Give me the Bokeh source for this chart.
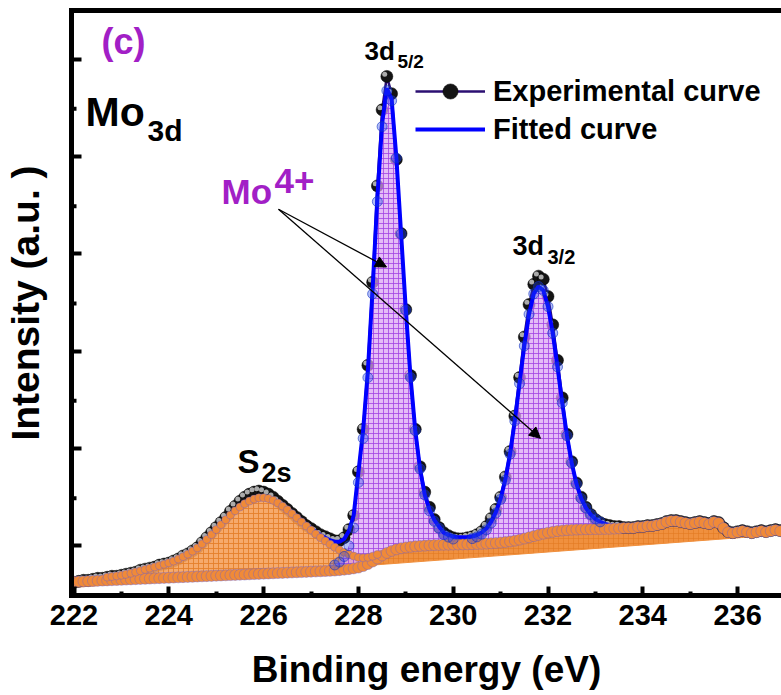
import numpy as np
from bokeh.plotting import figure
from bokeh.models import (Range1d, LinearAxis, FixedTicker, Label, Arrow, NormalHead,
                          Legend, LegendItem)
from bokeh.embed import file_html
from bokeh.resources import INLINE

# ---------------- data ----------------
energy = [
    222.0, 222.1, 222.2, 222.3, 222.4, 222.5, 222.6, 222.7, 222.8, 222.9,
    223.0, 223.1, 223.2, 223.3, 223.4, 223.5, 223.6, 223.7, 223.8, 223.9,
    224.0, 224.1, 224.2, 224.3, 224.4, 224.5, 224.6, 224.7, 224.8, 224.9,
    225.0, 225.1, 225.2, 225.3, 225.4, 225.5, 225.6, 225.7, 225.8, 225.9,
    226.0, 226.1, 226.2, 226.3, 226.4, 226.5, 226.6, 226.7, 226.8, 226.9,
    227.0, 227.1, 227.2, 227.3, 227.4, 227.5, 227.6, 227.7, 227.8, 227.9,
    228.0, 228.1, 228.2, 228.3, 228.4, 228.5, 228.6, 228.7, 228.8, 228.9,
    229.0, 229.1, 229.2, 229.3, 229.4, 229.5, 229.6, 229.7, 229.8, 229.9,
    230.0, 230.1, 230.2, 230.3, 230.4, 230.5, 230.6, 230.7, 230.8, 230.9,
    231.0, 231.1, 231.2, 231.3, 231.4, 231.5, 231.6, 231.7, 231.8, 231.9,
    232.0, 232.1, 232.2, 232.3, 232.4, 232.5, 232.6, 232.7, 232.8, 232.9,
    233.0, 233.1, 233.2, 233.3, 233.4, 233.5, 233.6, 233.7, 233.8, 233.9,
    234.0, 234.1, 234.2, 234.3, 234.4, 234.5, 234.6, 234.7, 234.8, 234.9,
    235.0, 235.1, 235.2, 235.3, 235.4, 235.5, 235.6, 235.7, 235.8, 235.9,
    236.0, 236.1, 236.2, 236.3, 236.4, 236.5, 236.6, 236.7, 236.8, 236.9,
]

experimental = [
    1.3, 1.4, 1.5, 1.5, 1.6, 1.7, 1.7, 1.8, 1.9, 1.9,
    2.0, 2.1, 2.2, 2.3, 2.5, 2.6, 2.7, 2.8, 3.0, 3.1,
    3.2, 3.4, 3.6, 3.9, 4.1, 4.4, 4.7, 5.2, 5.7, 6.2,
    6.7, 7.2, 7.7, 8.3, 8.8, 9.3, 9.7, 10.0, 10.2, 10.3,
    10.2, 10.0, 9.7, 9.3, 8.9, 8.5, 8.1, 7.7, 7.3, 6.9,
    6.6, 6.3, 6.0, 5.8, 5.6, 5.4, 5.4, 5.7, 6.5, 7.9,
    12.2, 16.4, 22.7, 30.9, 40.4, 47.9, 51.2, 49.5, 43.0, 35.7,
    28.2, 21.7, 16.4, 12.7, 10.2, 8.7, 7.5, 6.7, 6.2, 5.9,
    5.7, 5.6, 5.6, 5.7, 5.8, 6.0, 6.3, 6.8, 7.6, 8.5,
    9.7, 11.7, 14.2, 17.7, 21.5, 25.5, 28.7, 30.7, 31.5, 31.2,
    29.5, 26.7, 23.2, 19.5, 15.9, 13.2, 11.1, 9.7, 8.7, 8.0,
    7.5, 7.2, 7.0, 6.9, 6.8, 6.8, 6.7, 6.7, 6.7, 6.8,
    6.8, 6.9, 6.9, 7.0, 7.1, 7.3, 7.4, 7.4, 7.3, 7.2,
    7.1, 7.2, 7.3, 7.2, 7.1, 7.3, 7.2, 6.7, 6.3, 6.2,
    6.3, 6.4, 6.3, 6.2, 6.3, 6.4, 6.3, 6.4, 6.5, 6.4,
]

background = [
    1.35, 1.37, 1.39, 1.41, 1.43, 1.45, 1.47, 1.49, 1.51, 1.53,
    1.55, 1.57, 1.59, 1.61, 1.63, 1.65, 1.67, 1.69, 1.71, 1.73,
    1.75, 1.77, 1.79, 1.81, 1.83, 1.85, 1.87, 1.89, 1.91, 1.93,
    1.95, 1.97, 1.99, 2.01, 2.03, 2.05, 2.07, 2.09, 2.11, 2.13,
    2.15, 2.17, 2.19, 2.21, 2.23, 2.25, 2.27, 2.29, 2.31, 2.33,
    2.35, 2.37, 2.39, 2.41, 2.43, 2.46, 2.50, 2.55, 2.60, 2.67,
    2.75, 2.90, 3.10, 3.35, 3.65, 3.95, 4.20, 4.40, 4.55, 4.66,
    4.74, 4.80, 4.85, 4.89, 4.92, 4.95, 4.97, 4.99, 5.00, 5.01,
    5.02, 5.03, 5.04, 5.05, 5.06, 5.08, 5.10, 5.12, 5.15, 5.18,
    5.22, 5.27, 5.33, 5.41, 5.51, 5.62, 5.74, 5.86, 5.98, 6.10,
    6.20, 6.28, 6.35, 6.41, 6.45, 6.48, 6.50, 6.52, 6.53, 6.54,
    6.55, 6.56, 6.57, 6.58, 6.60, 6.62, 6.65, 6.65, 6.65, 6.75,
    6.75, 6.85, 6.85, 6.95, 7.05, 7.25, 7.35, 7.35, 7.25, 7.15,
    7.05, 7.15, 7.25, 7.15, 7.05, 7.25, 7.15, 6.65, 6.25, 6.15,
    6.25, 6.35, 6.25, 6.15, 6.25, 6.35, 6.25, 6.35, 6.45, 6.35,
]

s2s_peak = [
    0.05, 0.08, 0.12, 0.16, 0.20, 0.24, 0.28, 0.32, 0.36, 0.40,
    0.45, 0.52, 0.60, 0.70, 0.80, 0.92, 1.02, 1.12, 1.24, 1.35,
    1.47, 1.62, 1.80, 2.02, 2.25, 2.52, 2.82, 3.20, 3.62, 4.08,
    4.55, 5.02, 5.48, 5.92, 6.32, 6.68, 6.98, 7.22, 7.40, 7.50,
    7.50, 7.40, 7.20, 6.92, 6.58, 6.20, 5.80, 5.38, 4.95, 4.52,
    4.10, 3.70, 3.32, 2.96, 2.62, 2.30, 2.00, 1.72, 1.46, 1.22,
    1.00, 0.82, 0.66, 0.52, 0.40, 0.30, 0.22, 0.15, 0.10, 0.06,
    0.03, 0.0, 0.0, 0.0, 0.0, 0.0, 0.0, 0.0, 0.0, 0.0,
] + [0.0] * 70

mo_3d52 = [0.0] * 45 + [
    0.07, 0.08, 0.10, 0.12, 0.14,
    0.17, 0.21, 0.26, 0.32, 0.40, 0.55, 0.80, 1.30, 2.30, 4.00,
    8.4, 12.6, 18.4, 26.4, 35.2, 42.3, 45.6, 44.4, 38.6, 31.0,
    23.4, 16.7, 11.4, 7.6, 5.0, 3.4, 2.35, 1.65, 1.00, 0.75,
    0.55, 0.42, 0.34, 0.28, 0.23, 0.19, 0.16, 0.13, 0.11, 0.09,
    0.08, 0.07, 0.06, 0.05, 0.04, 0.03, 0.02, 0.01, 0.0, 0.0,
] + [0.0] * 50

mo_3d32 = [0.0] * 75 + [
    0.12, 0.14, 0.16, 0.19, 0.22,
    0.25, 0.30, 0.36, 0.44, 0.55, 0.70, 0.95, 1.35, 2.00, 2.95,
    4.25, 6.10, 8.60, 11.8, 15.4, 19.0, 22.0, 23.9, 24.5, 24.0,
    22.3, 19.6, 16.2, 12.6, 9.3, 6.6, 4.5, 3.05, 2.1, 1.45,
    1.00, 0.70, 0.50, 0.36, 0.27, 0.20, 0.15, 0.11, 0.08, 0.06,
    0.05, 0.04, 0.03, 0.02, 0.02, 0.01, 0.01, 0.0, 0.0, 0.0,
] + [0.0] * 20

baseline_x = [236.9, 222.0]
baseline_y = [6.0, 0.8]

x_major = [222, 224, 226, 228, 230, 232, 234, 236]
x_minor = [223, 225, 227, 229, 231, 233, 235, 237]
y_major = [4.9, 14.5, 24.1, 33.7, 43.3, 52.9]
y_minor = [9.6, 19.2, 28.8, 38.4, 48.0]

# ---------------- derived arrays ----------------
x = np.array(energy)
exp_y = np.array(experimental)
bg = np.array(background)
s2s = np.array(s2s_peak)
m52 = np.array(mo_3d52)
m32 = np.array(mo_3d32)
fit = bg + s2s + m52 + m32

FONT = "Liberation Sans"
PURPLE = "#A21FC6"

X0, X1 = 221.947, 236.926
PX_PER_EV = 47.4
p = figure(width=781, height=695, output_backend="svg", toolbar_location=None,
           x_range=Range1d(X0, X1), y_range=Range1d(0.0, 57.7),
           min_border_left=71, min_border_right=0, min_border_top=10,
           min_border_bottom=100)
p.outline_line_color = None
p.grid.visible = False
p.background_fill_color = "white"
p.border_fill_color = "white"


def px2x(px):
    return X0 + (px - 71.0) / PX_PER_EV


def px2y(py):
    return (587.0 - py) / 10.0


# background band (between linear baseline and Shirley background)
p.patch(np.concatenate([x, baseline_x]), np.concatenate([bg, baseline_y]),
        fill_color="#F0903E", line_color="#F0903E", line_width=1,
        hatch_pattern="+", hatch_color="#E27A22", hatch_scale=5, hatch_alpha=0.6)

# experimental curve
exp_line = p.line(x, exp_y, line_color="#2B0F72", line_width=2.5)
balls = p.scatter(x, exp_y, size=12, marker="circle", fill_color="#141414",
                  line_color="#000000", line_width=0.5)
p.scatter(x - 0.045, exp_y + 0.22, size=5, marker="circle", fill_color="#BDBDBD",
          line_color=None, fill_alpha=0.9)

# S2s component
p.varea(x=x, y1=bg, y2=bg + s2s, fill_color="#F5A15C", fill_alpha=0.9,
        hatch_pattern="+", hatch_color="#E5802A", hatch_scale=5, hatch_alpha=0.9)

# Mo 3d components
for comp in (m52, m32):
    p.varea(x=x, y1=bg, y2=bg + comp, fill_color="#D9A2F4", fill_alpha=0.72,
            hatch_pattern="+", hatch_color="#A343E4", hatch_scale=5, hatch_alpha=0.8)

# fitted envelope
fit_line = p.line(x, fit, line_color="#0000FF", line_width=4)

# component markers
p.scatter(x, bg, size=11, marker="circle", fill_color="#F08A38", line_color="#6A5FD0",
          line_alpha=0.5, line_width=0.8)
ms = s2s > 0.3
p.scatter(x[ms], (bg + s2s)[ms], size=8, marker="circle", fill_color="#F08A38",
          line_color="#6A5FD0", line_alpha=0.5, line_width=0.8)
for comp in (m52, m32):
    mk = comp > 0.5
    p.scatter(x[mk], (bg + comp)[mk], size=10, marker="circle", fill_color="#2244EE",
              fill_alpha=0.35, line_color="#1030C0", line_alpha=0.6, line_width=1)

# ---------------- axes ----------------
xa = p.xaxis[0]
xa.ticker = FixedTicker(ticks=x_major, minor_ticks=x_minor)
xa.axis_line_width = 5
xa.axis_line_cap = "square"
xa.major_tick_in = 9
xa.major_tick_out = 0
xa.minor_tick_in = 4
xa.minor_tick_out = 0
xa.major_tick_line_width = 4
xa.minor_tick_line_width = 4
xa.major_label_text_font = FONT
xa.major_label_text_font_size = "29px"
xa.major_label_text_font_style = "bold"
xa.major_label_text_color = "black"
xa.major_label_standoff = 9
xa.axis_label = "Binding energy (eV)"
xa.axis_label_text_font = FONT
xa.axis_label_text_font_size = "37px"
xa.axis_label_text_font_style = "bold"
xa.axis_label_text_color = "black"
xa.axis_label_standoff = 21

# y axis: no tick labels -> the long (major) ticks are drawn as the axis' minor
# ticks, the short ticks as small segments on the frame edge
ya = p.yaxis[0]
ya.ticker = FixedTicker(ticks=[], minor_ticks=y_major)
ya.axis_line_width = 5
ya.axis_line_cap = "square"
ya.major_tick_in = 0
ya.major_tick_out = 0
ya.minor_tick_in = 10
ya.minor_tick_out = 0
ya.minor_tick_line_width = 4
ya.major_label_standoff = 0
ya.axis_label = "Intensity (a.u. )"
ya.axis_label_text_font = FONT
ya.axis_label_text_font_size = "39px"
ya.axis_label_text_font_style = "bold"
ya.axis_label_text_color = "black"
ya.axis_label_standoff = 25

p.segment(x0=[X0] * len(y_minor), y0=y_minor,
          x1=[X0 + 5.0 / PX_PER_EV] * len(y_minor), y1=y_minor,
          line_color="black", line_width=4)

top = LinearAxis(ticker=FixedTicker(ticks=[]), axis_line_width=5,
                 major_label_standoff=0,
                 major_tick_in=0, major_tick_out=0, minor_tick_in=0, minor_tick_out=0)
p.add_layout(top, "above")

# ---------------- annotations ----------------
# (text, left px, baseline px, font size px, colour)
texts = [
    ("(c)", 101, 55, 36, PURPLE),
    ("Mo", 85, 127, 41, "black"),
    ("3d", 147, 140, 30, "black"),
    ("3d", 364, 60, 26, "black"),
    ("5/2", 397, 68, 19, "black"),
    ("3d", 512, 253, 27, "black"),
    ("3/2", 547, 261, 20, "black"),
    ("S", 237, 468, 33, "black"),
    ("2s", 261, 477, 27, "black"),
    ("Mo", 221, 203, 35, PURPLE),
    ("4+", 274, 192, 35, PURPLE),
]
for t, px, py, fs, col in texts:
    p.add_layout(Label(x=px2x(px), y=px2y(py - 0.4 * fs), text=t, text_font=FONT,
                       text_font_size=f"{fs}px", text_font_style="bold", text_color=col,
                       text_baseline="alphabetic", text_align="left"))

for ex, ey in ((386, 263), (540, 432)):
    p.add_layout(Arrow(end=NormalHead(size=11, fill_color="black", line_color="black",
                                      line_width=1),
                       x_start=px2x(278), y_start=px2y(206),
                       x_end=px2x(ex), y_end=px2y(ey),
                       line_color="black", line_width=1.3))

# ---------------- legend ----------------
legend = Legend(items=[LegendItem(label="Experimental curve", renderers=[exp_line, balls]),
                       LegendItem(label="Fitted curve", renderers=[fit_line])],
                location=(344, 447), orientation="vertical")
legend.label_text_font = FONT
legend.label_text_font_size = "29px"
legend.label_text_font_style = "bold"
legend.label_text_color = "black"
legend.glyph_width = 70
legend.glyph_height = 38
legend.label_height = 38
legend.label_standoff = 8
legend.spacing = 0
legend.padding = 0
legend.margin = 0
legend.border_line_color = None
legend.background_fill_alpha = 0
p.add_layout(legend)

open("out.html", "w").write(file_html(p, INLINE))
